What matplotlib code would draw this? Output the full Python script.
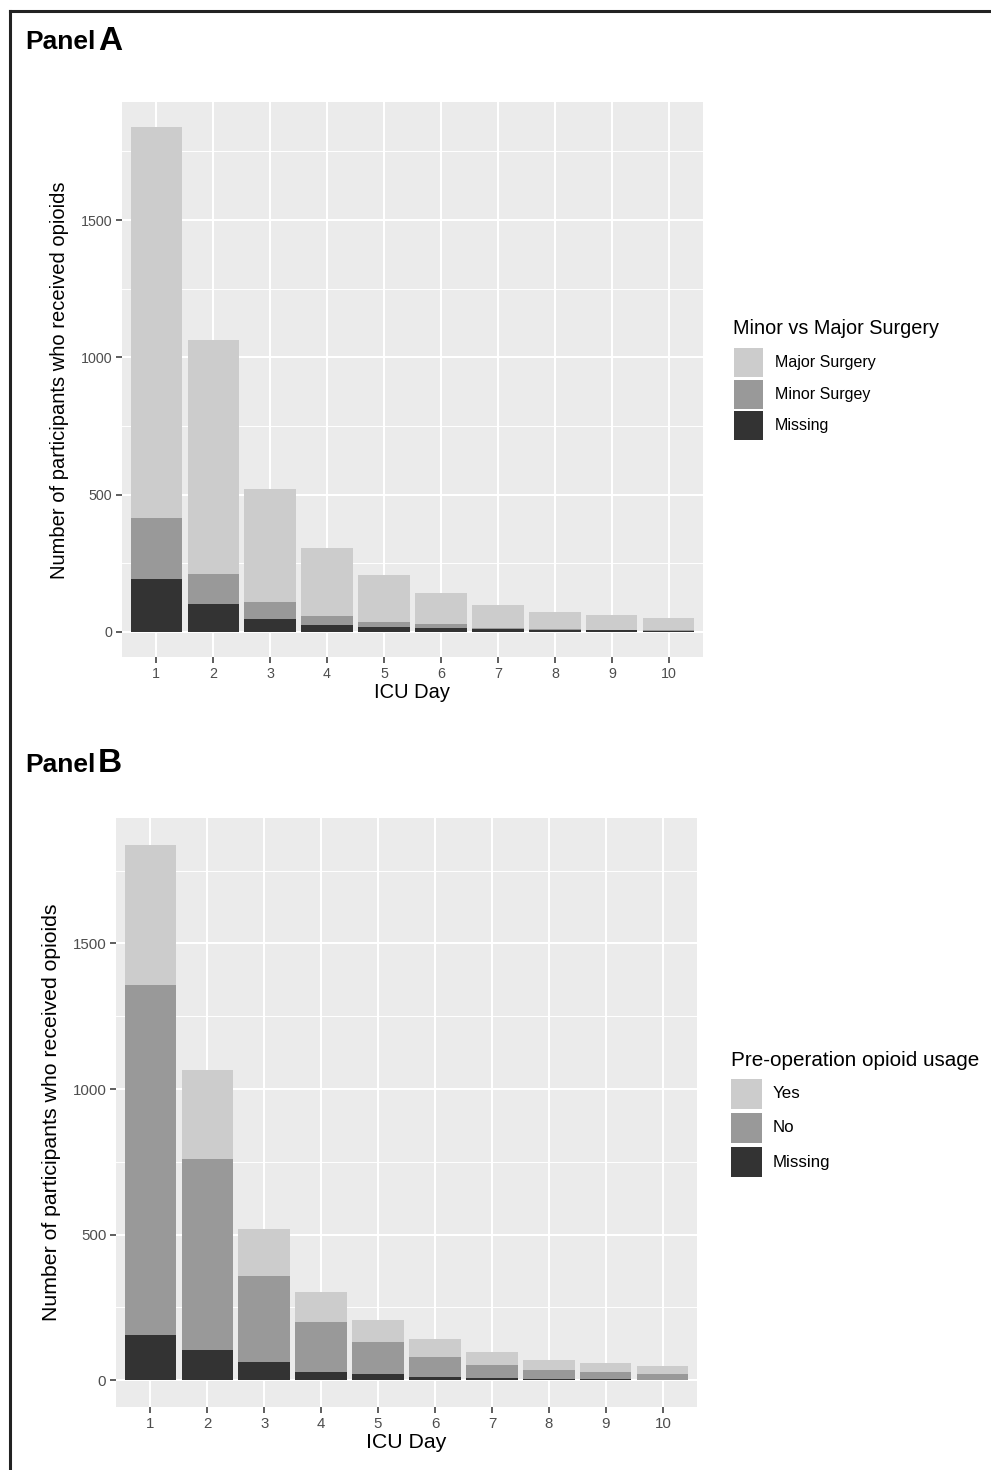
import matplotlib
matplotlib.use("Agg")
import matplotlib.pyplot as plt
from matplotlib.patches import Rectangle
from matplotlib.lines import Line2D
from matplotlib.ticker import MultipleLocator
import numpy as np

plt.rcParams['font.family'] = ['Liberation Sans', 'DejaVu Sans']

# ---------------- data ----------------
days = [1, 2, 3, 4, 5, 6, 7, 8, 9, 10]
day_labels = ["1", "2", "3", "4", "5", "6", "7", "8", "9", "10"]

# Panel A: Minor vs Major Surgery (stack order bottom -> top: Missing, Minor, Major)
a_missing = [194, 102, 47, 26, 18, 13, 10, 6, 5, 4]
a_minor = [219, 107, 63, 32, 17, 14, 5, 4, 3, 3]
a_major = [1425, 855, 410, 248, 171, 113, 84, 61, 54, 43]
a_labels = ["Major Surgery", "Minor Surgey", "Missing"]
a_title = "Minor vs Major Surgery"

# Panel B: Pre-operation opioid usage (bottom -> top: Missing, No, Yes)
b_missing = [157, 104, 61, 28, 20, 12, 6, 3, 3, 2]
b_no = [1200, 655, 298, 171, 110, 69, 46, 31, 26, 21]
b_yes = [482, 306, 162, 105, 76, 59, 46, 37, 31, 27]
b_labels = ["Yes", "No", "Missing"]
b_title = "Pre-operation opioid usage"

y_ticks = [0, 500, 1000, 1500]

# ---------------- style ----------------
W, H = 991, 1470
C_LIGHT, C_MID, C_DARK = "#CCCCCC", "#999999", "#333333"
PANEL_BG = "#EBEBEB"

fig = plt.figure(figsize=(W / 100, H / 100), dpi=100)
fig.patch.set_facecolor("white")


def fx(x):
    return x / W


def fy(y):
    return 1 - y / H


def make_axes(l, t, r, b):
    return fig.add_axes([fx(l), fy(b), (r - l) / W, (b - t) / H])


def draw_panel(ax, top, mid, bottom, title_size, tick_size, ylabel_x):
    x = np.array(days)
    bot = np.array(bottom)
    midv = np.array(mid)
    topv = np.array(top)
    ax.set_facecolor(PANEL_BG)
    ax.bar(x, bot, width=0.9, color=C_DARK, linewidth=0, zorder=3)
    ax.bar(x, midv, bottom=bot, width=0.9, color=C_MID, linewidth=0, zorder=3)
    ax.bar(x, topv, bottom=bot + midv, width=0.9, color=C_LIGHT, linewidth=0, zorder=3)
    total = (bot + midv + topv).max()
    ax.set_ylim(-0.05 * total, 1.05 * total)
    ax.set_xlim(0.4, 10.6)
    ax.set_xticks(days)
    ax.set_xticklabels(day_labels)
    ax.set_yticks(y_ticks)
    ax.yaxis.set_minor_locator(MultipleLocator(250))
    ax.grid(True, which="major", color="white", linewidth=1.5, zorder=0)
    ax.grid(True, which="minor", axis="y", color="white", linewidth=0.7, zorder=0)
    ax.set_axisbelow(True)
    for s in ax.spines.values():
        s.set_visible(False)
    ax.tick_params(axis="both", which="major", length=4, width=1.1, color="#333333",
                   labelcolor="#4D4D4D", labelsize=tick_size, pad=3)
    ax.tick_params(axis="y", which="minor", length=0)
    ax.set_xlabel("ICU Day", fontsize=title_size, labelpad=2)
    ax.set_ylabel("Number of participants who received opioids", fontsize=title_size)
    ax.yaxis.set_label_coords(ylabel_x, 0.5, transform=fig.transFigure)
    ax.yaxis.label.set_va("center")


def draw_legend(title, labels, colors, title_x, title_y, key_x, key_w, key_tops, key_h,
                label_x, title_size, label_size):
    fig.text(fx(title_x), fy(title_y), title, fontsize=title_size, ha="left", va="center")
    for lab, col, kt in zip(labels, colors, key_tops):
        fig.add_artist(Rectangle((fx(key_x), fy(kt + key_h)), key_w / W, key_h / H,
                                 transform=fig.transFigure, facecolor=col, edgecolor="none"))
        fig.text(fx(label_x), fy(kt + key_h / 2), lab, fontsize=label_size, ha="left", va="center")


# Panel A
axA = make_axes(122, 102, 703, 657)
draw_panel(axA, a_major, a_minor, a_missing, 14.5, 10.3, fx(60))
axA.yaxis.label.set_position((fx(60), fy(380)))
draw_legend(a_title, a_labels, [C_LIGHT, C_MID, C_DARK], 733, 328, 734, 29,
            [348, 380, 411], 29, 775, 14.3, 11.5)

# Panel B
axB = make_axes(116, 818, 697, 1407)
draw_panel(axB, b_yes, b_no, b_missing, 15.3, 10.8, fx(52))
axB.yaxis.label.set_position((fx(52), fy(1112)))
draw_legend(b_title, b_labels, [C_LIGHT, C_MID, C_DARK], 731, 1060, 731, 31,
            [1079, 1113, 1147], 30, 773, 14.9, 12.2)

# Panel titles
for ty, letter in [(42, "A"), (765, "B")]:
    fig.text(fx(25), fy(ty), "Panel", fontsize=19, fontweight="bold", ha="left", va="center")
    fig.text(fx(98), fy(ty - 1), letter, fontsize=24, fontweight="bold", ha="left", va="center")

# Border lines (top and left)
fig.add_artist(Line2D([fx(10), 1.0], [fy(11), fy(11)], transform=fig.transFigure,
                      color="#222222", linewidth=2.2))
fig.add_artist(Line2D([fx(10), fx(10)], [fy(11), 0.0], transform=fig.transFigure,
                      color="#222222", linewidth=2.2))

fig.savefig("out.png", dpi=100, facecolor="white")
